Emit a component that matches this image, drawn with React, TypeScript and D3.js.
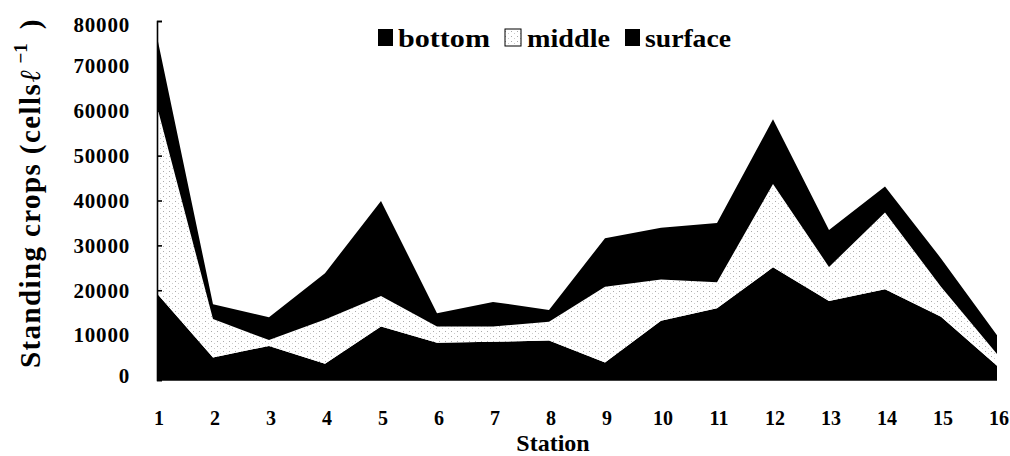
import React, { useEffect, useRef } from 'react';
import * as d3 from 'd3';

// station numbers along the x axis
const stations = ['1', '2', '3', '4', '5', '6', '7', '8', '9', '10', '11', '12', '13', '14', '15', '16'];

// standing crops per layer (cells/l)
const bottom = [19300, 5000, 7600, 3600, 11900, 8300, 8500, 8800, 3900, 13200, 16000, 25100, 17600, 20200, 14100, 3200];
const middle = [41700, 8600, 1300, 9900, 6800, 3600, 3400, 4200, 16900, 9200, 5800, 18600, 7600, 17100, 6700, 2600];
const surface = [15500, 3300, 5100, 10300, 21200, 3000, 5500, 2600, 10800, 11500, 13200, 14400, 8200, 5800, 6300, 4200];

const layers = ['bottom', 'middle', 'surface'];
const yTicks = [0, 10000, 20000, 30000, 40000, 50000, 60000, 70000, 80000];

const App = () => {
  const chartRef = useRef<SVGSVGElement | null>(null);

  useEffect(() => {
    const width = 1010;
    const height = 456;
    const left = 157;
    const right = 997;
    const top = 21;
    const base = 380;
    const font = '"Liberation Serif", "Times New Roman", serif';

    const svg = d3.select(chartRef.current);
    svg.selectAll('*').remove();
    svg.attr('width', width).attr('height', height);

    // dotted fill for the middle layer
    const defs = svg.append('defs');
    const pat = defs
      .append('pattern')
      .attr('id', 'dots')
      .attr('patternUnits', 'userSpaceOnUse')
      .attr('width', 6)
      .attr('height', 5);
    pat.append('rect').attr('width', 6).attr('height', 5).attr('fill', '#fff');
    pat.append('rect').attr('x', 1).attr('y', 1).attr('width', 1).attr('height', 1).attr('fill', '#aaa');
    pat.append('rect').attr('x', 4).attr('y', 3).attr('width', 1).attr('height', 1).attr('fill', '#ccc');

    const rows = stations.map((s, i) => ({
      station: s,
      bottom: bottom[i],
      middle: middle[i],
      surface: surface[i],
    }));

    const x = d3.scalePoint().domain(stations).range([left, right]);
    const y = d3.scaleLinear().domain([0, 80000]).range([base, top]);

    const stacked = d3.stack().keys(layers)(rows as any);

    const area = d3
      .area<any>()
      .x((d) => x(d.data.station) as number)
      .y0((d) => y(d[0]))
      .y1((d) => y(d[1]));

    const fills: Record<string, string> = { bottom: '#000', middle: 'url(#dots)', surface: '#000' };

    svg
      .append('g')
      .selectAll('path')
      .data(stacked)
      .enter()
      .append('path')
      .attr('d', (d) => area(d as any))
      .attr('fill', (d) => fills[d.key]);

    // y axis with inward ticks
    const yAxis = svg
      .append('g')
      .attr('transform', `translate(${left},0)`)
      .call(d3.axisRight(y).tickValues(yTicks).tickSize(5).tickFormat(() => ''));
    yAxis.select('.domain').attr('stroke', '#000').attr('stroke-width', 1.6);
    yAxis.selectAll('.tick line').attr('stroke', '#000').attr('stroke-width', 1.6);

    // x axis baseline
    svg
      .append('line')
      .attr('x1', left)
      .attr('x2', right)
      .attr('y1', base)
      .attr('y2', base)
      .attr('stroke', '#000')
      .attr('stroke-width', 1.5);

    // y tick labels
    svg
      .append('g')
      .selectAll('text')
      .data(yTicks)
      .enter()
      .append('text')
      .attr('x', 130)
      .attr('y', (d) => y(d) + (d === 0 ? -4 : d === 80000 ? 4 : 0))
      .attr('dy', '0.35em')
      .attr('text-anchor', 'end')
      .attr('font-family', font)
      .attr('font-weight', 'bold')
      .attr('font-size', 21)
      .attr('letter-spacing', 0.8)
      .text((d) => d);

    // x tick labels
    svg
      .append('g')
      .selectAll('text')
      .data(stations)
      .enter()
      .append('text')
      .attr('x', (d) => (x(d) as number) + 2)
      .attr('y', 418)
      .attr('dy', '0.35em')
      .attr('text-anchor', 'middle')
      .attr('font-family', font)
      .attr('font-weight', 'bold')
      .attr('font-size', 20)
      .text((d) => d);

    svg
      .append('text')
      .attr('x', 553)
      .attr('y', 451)
      .attr('text-anchor', 'middle')
      .attr('font-family', font)
      .attr('font-weight', 'bold')
      .attr('font-size', 24)
      .text('Station');

    // y axis title
    const yTitle = svg
      .append('text')
      .attr('transform', 'translate(40,368) rotate(-90)')
      .attr('text-anchor', 'start')
      .attr('font-family', font)
      .attr('font-weight', 'bold')
      .attr('font-size', 29);
    yTitle.append('tspan').attr('letter-spacing', 1.4).text('Standing crops (cells');
    yTitle.append('tspan').attr('font-style', 'italic').attr('dx', 1).text('ℓ');
    yTitle.append('tspan').attr('dy', -13).attr('dx', 6).attr('font-size', 19).text('−1');
    yTitle.append('tspan').attr('dy', 13).attr('dx', 14).text(')');

    // legend
    const legend = [
      { key: 'bottom', label: 'bottom', sx: 378, tx: 398, tw: 92 },
      { key: 'middle', label: 'middle', sx: 505, tx: 527, tw: 83 },
      { key: 'surface', label: 'surface', sx: 625, tx: 645, tw: 86 },
    ];
    const lg = svg.append('g');
    lg.selectAll('rect')
      .data(legend)
      .enter()
      .append('rect')
      .attr('x', (d) => d.sx)
      .attr('y', 29)
      .attr('width', (d) => (d.key === 'middle' ? 16 : 15))
      .attr('height', 17)
      .attr('fill', (d) => (d.key === 'middle' ? 'url(#dots)' : '#000'))
      .attr('stroke', (d) => (d.key === 'middle' ? '#000' : 'none'))
      .attr('stroke-width', 1);
    lg.selectAll('text')
      .data(legend)
      .enter()
      .append('text')
      .attr('x', (d) => d.tx)
      .attr('y', 47)
      .attr('font-family', font)
      .attr('font-weight', 'bold')
      .attr('font-size', 25)
      .attr('textLength', (d) => d.tw)
      .attr('lengthAdjust', 'spacingAndGlyphs')
      .text((d) => d.label);
  }, []);

  return (
    <div style={{ position: 'absolute', left: 0, top: 0, background: '#fff' }}>
      <svg ref={chartRef}></svg>
    </div>
  );
};

export default App;
